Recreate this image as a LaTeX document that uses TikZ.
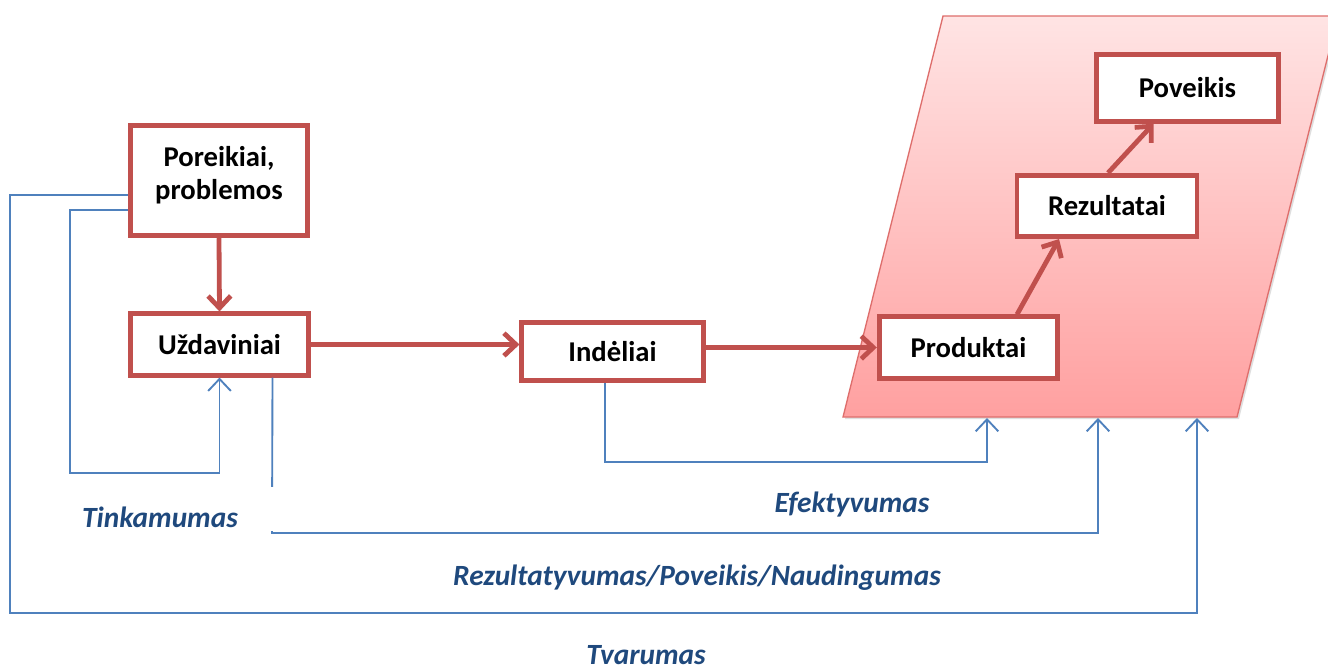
\documentclass[tikz,border=0pt]{standalone}
\usepackage{fontspec}
\setmainfont{Carlito}
\usetikzlibrary{arrows.meta,calc,shadows}
\definecolor{redb}{RGB}{192,80,77}
\definecolor{blueln}{RGB}{79,129,189}
\definecolor{bluetext}{RGB}{31,73,125}
\definecolor{pinktop}{RGB}{255,228,228}
\definecolor{pinkbot}{RGB}{255,160,160}
\definecolor{pinkedge}{RGB}{222,110,108}
\begin{document}
\begin{tikzpicture}[x=0.75pt,y=-0.75pt,
 box/.style={draw=redb, line width=3.6pt, fill=white, font=\fontsize{21.5}{25}\selectfont\bfseries, inner sep=2pt, align=center, drop shadow={opacity=0.25,shadow xshift=1.5pt,shadow yshift=-1.5pt}},
 redarrow/.style={draw=redb, line width=3.6pt, -{Straight Barb[length=9pt,width=17pt]}},
 bluearrow/.style={draw=blueln, line width=1.4pt, -{Straight Barb[length=9pt,width=17pt]}},
 bluepath/.style={draw=blueln, line width=1.4pt},
 lbl/.style={text=bluetext, font=\fontsize{22}{26}\selectfont\bfseries\itshape, inner sep=0pt, anchor=base}]
\useasboundingbox (0,0) rectangle (1328,671);
\fill[white] (0,0) rectangle (1328,671);
% parallelogram
\path[draw=pinkedge, line width=1pt, top color=pinktop, bottom color=pinkbot, drop shadow={opacity=0.25,shadow xshift=1.5pt,shadow yshift=-1.5pt}]
  (943,16) -- (1338,16) -- (1237,417) -- (843,417) -- cycle;
\coordinate (e1) at (987,418);
\coordinate (e2) at (1098,418);
\coordinate (e3) at (1197,418);
% boxes
\node[box, minimum width=133pt, minimum height=83pt] (por) at (219,180.5) {Poreikiai,\\problemos\\[-14pt]\mbox{}};
\node[box, minimum width=134pt, minimum height=46pt] (uzd) at (219.5,344.5) {Uždaviniai};
\node[box, minimum width=136pt, minimum height=44pt] (ind) at (612.5,351.5) {Indėliai};
\node[box, minimum width=134pt, minimum height=46pt] (prod) at (968.5,347.5) {Produktai};
\node[box, minimum width=135pt, minimum height=46pt] (rez) at (1107,206) {Rezultatai};
\node[box, minimum width=136pt, minimum height=50pt] (pov) at (1187.5,88) {Poveikis};
% red arrows
\draw[redarrow] (por.south) -- (uzd.north);
\draw[redarrow] (uzd.east) -- (uzd.east -| ind.west);
\draw[redarrow] ($(ind.east)+(0,-4)$) -- (prod.west);
\draw[redarrow] ($(prod.north)+(48.5,0)$) -- ($(rez.south)+(-48,0)$);
\draw[redarrow] ($(rez.north)+(1,0)$) -- ($(pov.south)+(-34,0)$);
% blue connectors
\draw[bluearrow] ($(por.west)+(0,29.5)$) -| (70,473) -| (uzd.south);
\draw[bluearrow] ($(por.west)+(0,14.5)$) -| (10,613) -| (e3);
\draw[bluearrow] ($(uzd.south)+(53,0)$) -- (272,533) -- (1098,533) -- (e2);
\draw[bluearrow] ($(ind.south)+(-7.5,0)$) -- (605,462) -- (987,462) -- (e1);
% white patch behind label
\fill[white] (20,487) rectangle (273.5,531);
% labels
\node[lbl] (tink) at (160,527) {Tinkamumas};
\node[lbl] (efek) at (852,512) {Efektyvumas};
\node[lbl] (rezp) at (697,585) {Rezultatyvumas/Poveikis/Naudingumas};
\node[lbl] (tvar) at (646,664) {Tvarumas};
\end{tikzpicture}
\end{document}
